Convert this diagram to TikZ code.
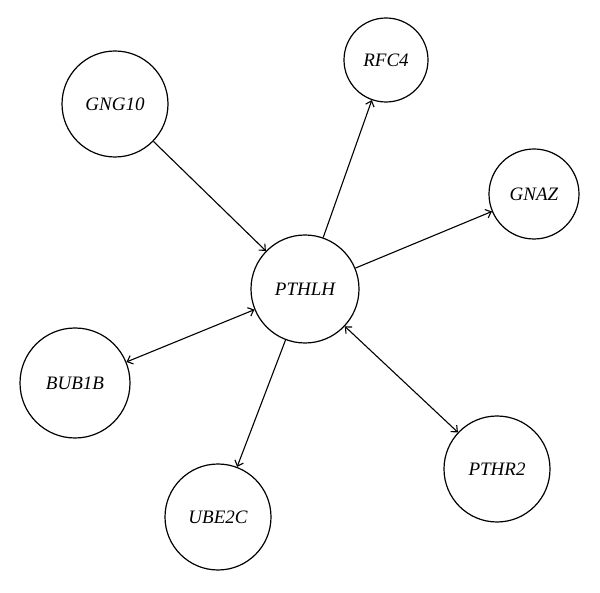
\documentclass[tikz,border=0pt]{standalone}
\usepackage{fontspec}
\setmainfont{Liberation Serif}
\usepackage{tikz}
\usetikzlibrary{arrows.meta}

\tikzset{gene/.style={draw, circle, line width=1.2pt, font=\fontsize{19}{22}\selectfont\itshape},
  link/.style={line width=1.1pt}}

\begin{document}
\begin{tikzpicture}[x=1pt,y=-1pt,>={Straight Barb[length=5pt,width=9pt]}]
\useasboundingbox (0,0) rectangle (600,593);
% genes
\node [gene, minimum size=108pt] (pthlh) at (305,289) {PTHLH};
\node [gene, minimum size=106pt] (gng10) at (115,104) {GNG10};
\node [gene, minimum size=84pt] (rfc4) at (386,60) {RFC4};
\node [gene, minimum size=90pt] (gnaz) at (534,194) {GNAZ};
\node [gene, minimum size=110pt] (bub1b) at (75,383) {BUB1B};
\node [gene, minimum size=106pt] (ube2c) at (218,517) {UBE2C};
\node [gene, minimum size=106pt] (pthr2) at (497,469) {PTHR2};
% interactions
\draw [link,->] (gng10) -- (pthlh);
\draw [link,->] (pthlh) -- (rfc4);
\draw [link,->] (pthlh) -- (gnaz);
\draw [link,<->] (bub1b) -- (pthlh);
\draw [link,->] (pthlh) -- (ube2c);
\draw [link,<->] (pthlh) -- (pthr2);
\end{tikzpicture}
\end{document}
